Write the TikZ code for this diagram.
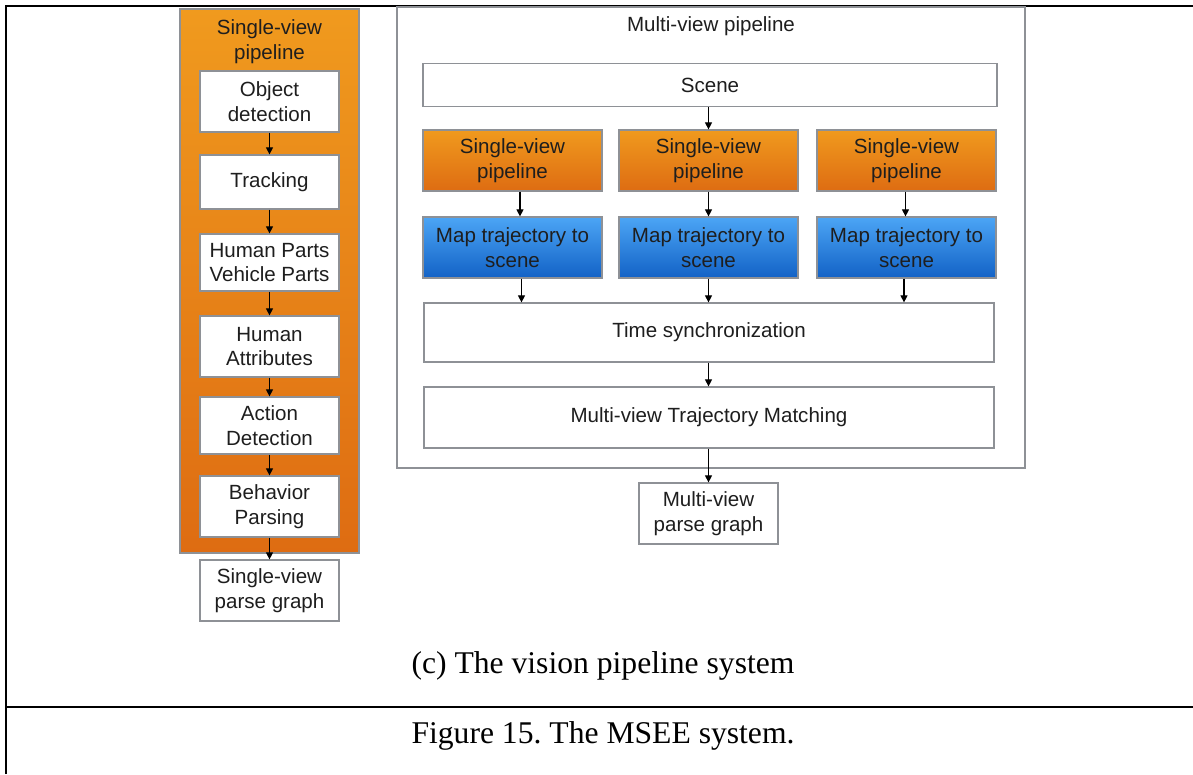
\documentclass[tikz,border=0pt]{standalone}
\usepackage{fontspec}
\setmainfont{Liberation Serif}
\newfontfamily\diagfont{Liberation Sans}
\usetikzlibrary{arrows.meta}
\definecolor{boxgray}{HTML}{8E9196}
\definecolor{orangetop}{HTML}{F09A1E}
\definecolor{orangebot}{HTML}{DE6C12}
\definecolor{bluetop}{HTML}{4CA5F5}
\definecolor{bluebot}{HTML}{1262C6}
\definecolor{ink}{HTML}{1E1E1E}
\begin{document}
\begin{tikzpicture}[x=0.02cm,y=-0.02cm,
  lbl/.style={font=\diagfont\fontsize{11.7}{14.2}\selectfont, text=ink, align=center},
  stepbox/.style={lbl, draw=boxgray, line width=0.7pt, fill=white, inner sep=0pt,
    minimum width=2.78cm},
  orangebox/.style={lbl, draw=boxgray, line width=0.7pt, inner sep=0pt,
    top color=orangetop, bottom color=orangebot,
    minimum width=3.58cm, minimum height=1.22cm},
  bluebox/.style={lbl, draw=boxgray, line width=0.7pt, inner sep=0pt,
    top color=bluetop, bottom color=bluebot,
    minimum width=3.58cm, minimum height=1.22cm},
  widebox/.style={lbl, draw=boxgray, line width=0.7pt, fill=white, inner sep=0pt},
  arr/.style={-{Triangle[length=4pt,width=4pt]}, line width=0.6pt, black},
  frame/.style={line width=1.2pt, black},
  caption/.style={font=\fontsize{18}{21}\selectfont, text=black}
]
\useasboundingbox (0,0) rectangle (1193,774);

% table rules
\draw[frame] (6,774) -- (6,6) -- (1193,6);
\draw[frame] (6,707) -- (1193,707);

% ---------- single-view pipeline ----------
\node[draw=boxgray, line width=0.8pt, top color=orangetop, bottom color=orangebot,
      minimum width=3.58cm, minimum height=10.88cm, inner sep=0pt] (svpanel) at (269.5,281) {};
\node[lbl] (svtitle) at (269.5,42) {Single-view\\pipeline};

\node[stepbox, minimum height=1.22cm] (objdet) at (269.5,101.5) {Object\\detection};
\node[stepbox, minimum height=1.08cm] (track) at (269.5,182) {Tracking};
\node[stepbox, minimum height=1.14cm] (parts) at (269.5,262.5) {Human Parts\\Vehicle Parts};
\node[stepbox, minimum height=1.22cm] (attr) at (269.5,346.5) {Human\\Attributes};
\node[stepbox, minimum height=1.14cm] (action) at (269.5,425.5) {Action\\Detection};
\node[stepbox, minimum height=1.22cm] (behav) at (269.5,506.5) {Behavior\\Parsing};
\node[stepbox, minimum height=1.22cm] (svparse) at (269.5,590.5) {Single-view\\parse graph};

\draw[arr] (objdet) -- (track);
\draw[arr] (track) -- (parts);
\draw[arr] (parts) -- (attr);
\draw[arr] (attr) -- (action);
\draw[arr] (action) -- (behav);
\draw[arr] (behav) -- (svparse);

% ---------- multi-view pipeline ----------
\node[draw=boxgray, line width=0.8pt, fill=white, minimum width=12.56cm,
      minimum height=9.22cm, inner sep=0pt] (mvpanel) at (711,237.5) {};
\node[lbl] (mvtitle) at (711,26) {Multi-view pipeline};

\node[widebox, minimum width=11.48cm, minimum height=0.86cm] (scene) at (710,85) {Scene};

\node[orangebox] (sv1) at (512.5,160.5) {Single-view\\pipeline};
\node[orangebox] (sv2) at (708.5,160.5) {Single-view\\pipeline};
\node[orangebox] (sv3) at (906.5,160.5) {Single-view\\pipeline};

\node[bluebox] (map1) at (512.5,247.5) {Map trajectory to\\scene};
\node[bluebox] (map2) at (708.5,247.5) {Map trajectory to\\scene};
\node[bluebox] (map3) at (906.5,247.5) {Map trajectory to\\scene};

\node[widebox, minimum width=11.4cm, minimum height=1.18cm] (sync) at (709,332.5) {Time synchronization};
\node[widebox, minimum width=11.4cm, minimum height=1.22cm] (match) at (709,417.5) {Multi-view Trajectory Matching};

\node[stepbox, minimum height=1.22cm] (mvparse) at (708.5,513.5) {Multi-view\\parse graph};

\draw[arr] (sv2.north |- scene.south) -- (sv2.north);
\draw[arr] ([xshift=0.15cm]sv1.south) -- ([xshift=0.15cm]map1.north);
\draw[arr] (sv2) -- (map2);
\draw[arr] ([xshift=-0.02cm]sv3.south) -- ([xshift=-0.02cm]map3.north);
\draw[arr] ([xshift=0.18cm]map1.south) -- ([xshift=0.18cm]map1.south |- sync.north);
\draw[arr] (map2.south) -- (map2.south |- sync.north);
\draw[arr] ([xshift=-0.05cm]map3.south) -- ([xshift=-0.05cm]map3.south |- sync.north);
\draw[arr] (sync.south -| mvparse) -- (match.north -| mvparse);
\draw[arr] (match.south -| mvparse) -- (mvparse.north);

% ---------- captions ----------
\node[caption] (subcap) at (603,666) {(c) The vision pipeline system};
\node[caption] (figcap) at (603,736) {Figure 15.\ The MSEE system.};
\end{tikzpicture}
\end{document}
